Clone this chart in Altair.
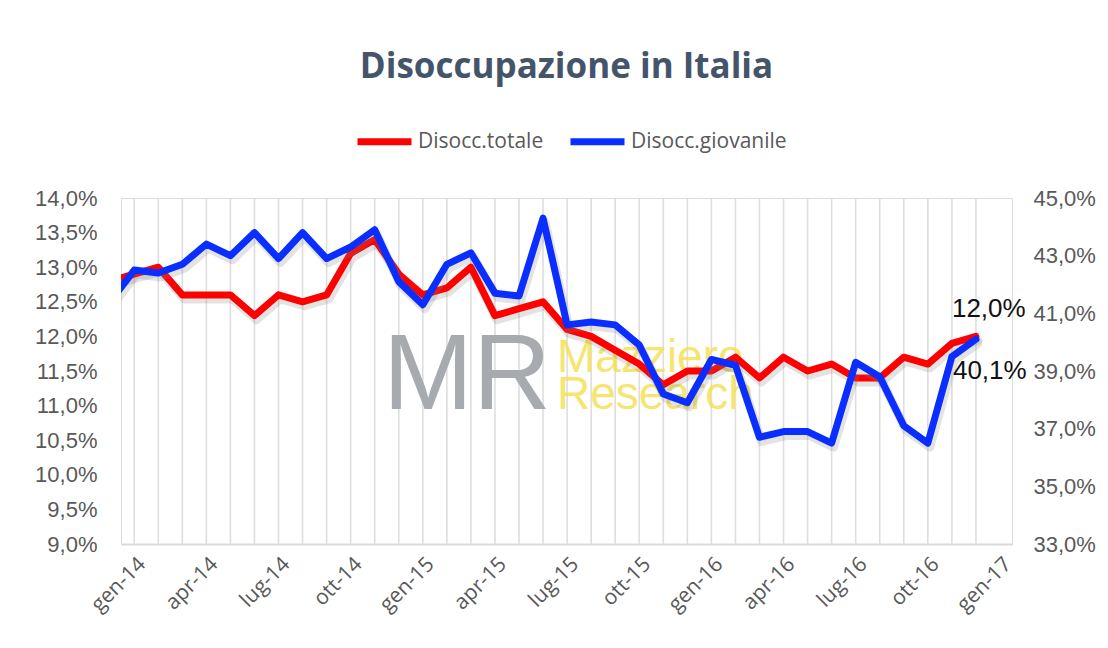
import altair as alt
import pandas as pd

# month index: -1 = dic-13, 0 = gen-14 ... 35 = dic-16
MONTH_INDEX = list(range(-1, 36))
TOTALE = [12.8, 12.9, 13.0, 12.6, 12.6, 12.6, 12.3, 12.6, 12.5, 12.6, 13.2, 13.4,
          12.9, 12.6, 12.7, 13.0, 12.3, 12.4, 12.5, 12.1, 12.0, 11.8, 11.6, 11.3,
          11.5, 11.5, 11.7, 11.4, 11.7, 11.5, 11.6, 11.4, 11.4, 11.7, 11.6, 11.9, 12.0]
GIOVANILE = [41.4, 42.5, 42.4, 42.7, 43.4, 43.0, 43.8, 42.9, 43.8, 42.9, 43.3, 43.9,
             42.1, 41.3, 42.7, 43.1, 41.7, 41.6, 44.3, 40.6, 40.7, 40.6, 39.9, 38.2,
             37.9, 39.4, 39.2, 36.7, 36.9, 36.9, 36.5, 39.3, 38.8, 37.1, 36.5, 39.5, 40.1]
TICK_VALUES = list(range(0, 37, 3))
TICK_LABELS = ["gen-14", "apr-14", "lug-14", "ott-14", "gen-15", "apr-15", "lug-15",
               "ott-15", "gen-16", "apr-16", "lug-16", "ott-16", "gen-17"]
LEFT_TICKS = [9.0, 9.5, 10.0, 10.5, 11.0, 11.5, 12.0, 12.5, 13.0, 13.5, 14.0]
RIGHT_TICKS = [33, 35, 37, 39, 41, 43, 45]
SERIES = ["Disocc.totale", "Disocc.giovanile"]
COLORS = ["#FF0000", "#0A2EFF"]
TITLE = "Disoccupazione in Italia"


def fmt(v):
    return f"{v:.1f}".replace(".", ",") + "%"


df_tot = pd.DataFrame({"m": MONTH_INDEX, "v": TOTALE, "s": SERIES[0]})
df_gio = pd.DataFrame({"m": MONTH_INDEX, "v": GIOVANILE, "s": SERIES[1]})
df_grid = pd.DataFrame({"m": [m for m in MONTH_INDEX if m >= 0]})
df_tot_last = pd.DataFrame({"m": [MONTH_INDEX[-1]], "v": [TOTALE[-1]], "lbl": [fmt(TOTALE[-1])]})
df_gio_last = pd.DataFrame({"m": [MONTH_INDEX[-1]], "v": [GIOVANILE[-1]], "lbl": [fmt(GIOVANILE[-1])]})

label_arr = "[" + ",".join(f"'{t}'" for t in TICK_LABELS) + "]"

x_enc = alt.X(
    "m:Q",
    scale=alt.Scale(domain=[-0.55, 36.5], nice=False, zero=False),
    axis=alt.Axis(
        values=TICK_VALUES,
        labelExpr=f"{label_arr}[round(datum.value/3)]",
        labelAngle=-45,
        grid=False,
        ticks=False,
        domain=True,
        domainColor="#D9D9D9",
        domainWidth=2,
        labelFont="Open Sans",
        labelFontSize=21,
        labelColor="#595959",
        labelPadding=9,
        title=None,
    ),
)

pct_expr = "replace(format(datum.value, '.1f'), '.', ',') + '%'"
common_y_axis = dict(
    grid=False, ticks=False, domain=False, labelFont="Liberation Sans",
    labelFontSize=22, labelColor="#595959", title=None, labelExpr=pct_expr,
)
y_left = alt.Y(
    "v:Q",
    scale=alt.Scale(domain=[9, 14], nice=False, zero=False),
    axis=alt.Axis(orient="left", values=LEFT_TICKS, labelPadding=24, **common_y_axis),
)
y_right = alt.Y(
    "v:Q",
    scale=alt.Scale(domain=[33, 45], nice=False, zero=False),
    axis=alt.Axis(orient="right", values=RIGHT_TICKS, labelPadding=21, **common_y_axis),
)

color_enc = alt.Color(
    "s:N",
    scale=alt.Scale(domain=SERIES, range=COLORS),
    legend=alt.Legend(
        orient="none", legendX=233, legendY=-87, direction="horizontal",
        symbolType="stroke", symbolSize=2916, symbolStrokeWidth=7,
        labelFont="Open Sans", labelFontSize=21, labelColor="#595959",
        labelOffset=3, columnPadding=12, title=None,
    ),
)

grid = alt.Chart(df_grid).mark_rule(color="#DEDEDE", strokeWidth=1.6).encode(x=x_enc)

wm_mr = alt.Chart(df_grid.head(1)).mark_text(
    text="MR", font="Liberation Sans", fontSize=108, color="#A7ABAF",
    align="left", baseline="alphabetic",
).encode(x=alt.value(262), y=alt.value(211))
wm_1 = alt.Chart(df_grid.head(1)).mark_text(
    text="Mazziero", font="Liberation Sans", fontSize=46, color="#F5DF4D", opacity=0.8,
    align="left", baseline="alphabetic",
).encode(x=alt.value(436), y=alt.value(174))
wm_2 = alt.Chart(df_grid.head(1)).mark_text(
    text="Research", font="Liberation Sans", fontSize=46, color="#F5DF4D", opacity=0.8,
    align="left", baseline="alphabetic",
).encode(x=alt.value(436), y=alt.value(211))

shadow_kw = dict(color="#808080", opacity=0.22, strokeWidth=9, xOffset=2, yOffset=4,
                 clip=True, strokeCap="round", strokeJoin="round")
line_kw = dict(strokeWidth=7, clip=True, strokeCap="round", strokeJoin="round")

tot_shadow = alt.Chart(df_tot).mark_line(**shadow_kw).encode(x=x_enc, y=y_left)
tot_line = alt.Chart(df_tot).mark_line(**line_kw).encode(x=x_enc, y=y_left, color=color_enc)
tot_lbl = alt.Chart(df_tot_last).mark_text(
    align="left", dx=-24, dy=-27, font="Liberation Sans", fontSize=26, color="#111111"
).encode(x=x_enc, y=y_left, text="lbl:N")

gio_shadow = alt.Chart(df_gio).mark_line(**shadow_kw).encode(x=x_enc, y=y_right)
gio_line = alt.Chart(df_gio).mark_line(**line_kw).encode(x=x_enc, y=y_right, color=color_enc)
gio_lbl = alt.Chart(df_gio_last).mark_text(
    align="left", dx=-23, dy=32, font="Liberation Sans", fontSize=26, color="#111111"
).encode(x=x_enc, y=y_right, text="lbl:N")

left = alt.layer(grid, wm_mr, wm_1, wm_2, tot_shadow, tot_line, tot_lbl)
right = alt.layer(gio_shadow, gio_line, gio_lbl)

chart = (
    alt.layer(left, right)
    .resolve_scale(y="independent")
    .properties(
        width=891,
        height=346,
        autosize=alt.AutoSizeParams(type="none"),
        padding={"left": 113, "top": 190, "right": 88, "bottom": 96},
        title=alt.TitleParams(
            TITLE, font="Open Sans", fontSize=35, fontWeight="bold", color="#44546A",
            anchor="middle", frame="group", offset=26,
        ),
    )
    .configure_view(strokeWidth=0)
    .configure(background="white")
)

chart.save("out.html", embed_options={"renderer": "svg", "actions": False})
